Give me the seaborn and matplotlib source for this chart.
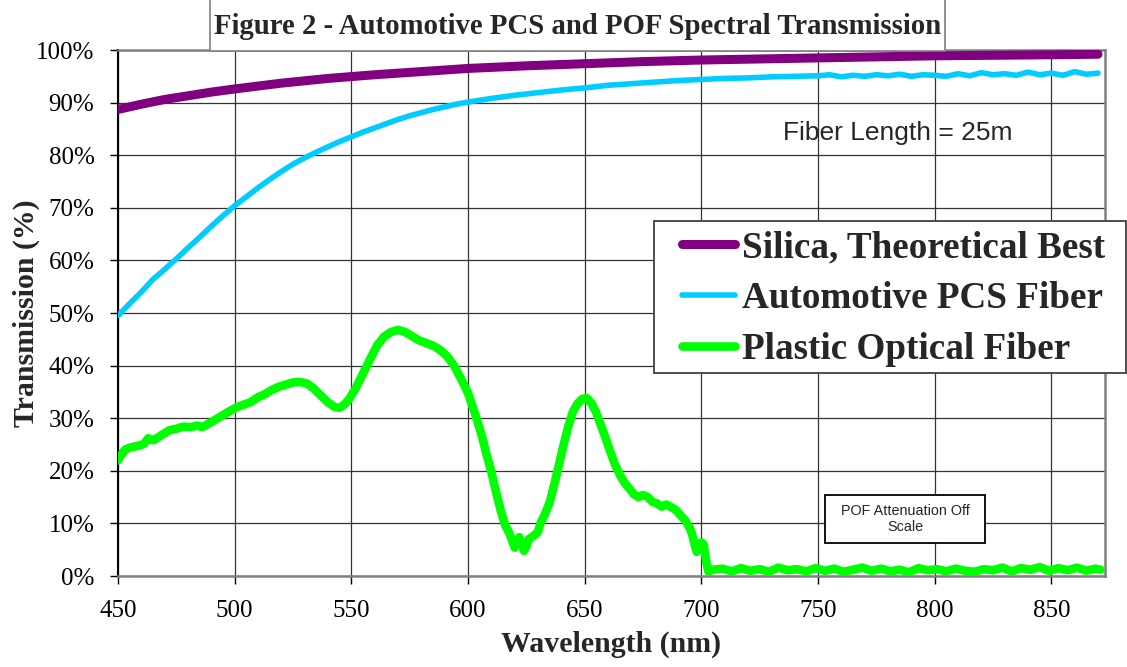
"""
Transmissão espectral - fibras PCS e POF automotivas.
"""

import matplotlib
matplotlib.use("Agg")
import matplotlib.pyplot as plt
import seaborn as sns
from matplotlib.patches import Rectangle
from matplotlib.ticker import FuncFormatter

# valores (comprimento de onda em nm, transmissão em %)
silica_wl = [450, 460, 470, 480, 490, 500, 520, 540, 560, 580, 600, 625, 650,
             675, 700, 725, 750, 775, 800, 825, 850, 870]
silica_tr = [88.7, 89.7, 90.6, 91.3, 92.0, 92.6, 93.7, 94.6, 95.3, 95.9, 96.5,
             97.0, 97.4, 97.8, 98.1, 98.3, 98.5, 98.7, 98.9, 99.0, 99.1, 99.2]

pcs_wl = [450, 455, 460, 465, 470, 475, 480, 485, 490, 495, 500, 505, 510, 515,
          520, 525, 530, 535, 540, 545, 550, 555, 560, 565, 570, 575, 580, 585,
          590, 595, 600, 610, 620, 630, 640, 650, 660, 670, 680, 690, 700, 710,
          720, 730, 740, 750, 755, 760, 765, 770, 775, 780, 785, 790, 795, 800,
          805, 810, 815, 820, 825, 830, 835, 840, 845, 850, 855, 860, 865, 870]
pcs_tr = [49.5, 51.8, 54.0, 56.4, 58.3, 60.3, 62.4, 64.4, 66.5, 68.5, 70.4,
          72.1, 73.8, 75.4, 76.9, 78.3, 79.5, 80.6, 81.6, 82.6, 83.5, 84.4,
          85.2, 86.0, 86.8, 87.5, 88.1, 88.7, 89.2, 89.7, 90.1, 90.8, 91.4,
          91.9, 92.4, 92.8, 93.3, 93.6, 93.9, 94.2, 94.4, 94.6, 94.7, 94.9,
          95.0, 95.1, 95.3, 94.9, 95.2, 95.0, 95.3, 95.1, 95.4, 95.0, 95.3,
          95.2, 95.0, 95.5, 95.1, 95.7, 95.3, 95.5, 95.2, 95.8, 95.3, 95.6,
          95.2, 95.9, 95.4, 95.6]

pof_wl = [450, 451, 453, 455, 457, 459, 461, 463, 465, 467, 469, 472, 475, 478,
          481, 484, 486, 489, 492, 495, 498, 501, 504, 507, 510, 513, 516, 519,
          522, 525, 528, 531, 534, 537, 540, 543, 545, 547, 549, 552, 555, 558,
          561, 564, 567, 570, 573, 576, 579, 582, 585, 588, 591, 594, 597, 600,
          602, 604, 606, 608, 610, 612, 614, 616, 617, 618, 619, 620, 621, 622,
          623, 624, 625, 626, 628, 630, 631, 633, 635, 637, 639, 641, 643, 645,
          647, 649, 651, 653, 655, 657, 659, 661, 663, 665, 667, 669, 671, 673,
          675, 677, 679, 681, 683, 685, 687, 689, 691, 693, 695, 696, 697, 698,
          699, 700, 701, 702, 703, 705, 709, 713, 717, 721, 725, 729, 733, 737,
          741, 745, 749, 753, 757, 761, 765, 769, 773, 777, 781, 785, 789, 793,
          797, 801, 805, 809, 813, 817, 821, 825, 829, 833, 837, 841, 845, 849,
          853, 857, 861, 865, 869, 871]
pof_tr = [22.0, 22.8, 24.0, 24.4, 24.6, 24.8, 25.1, 26.2, 25.8, 26.3, 26.9,
          27.7, 28.0, 28.4, 28.3, 28.6, 28.3, 29.0, 29.8, 30.6, 31.4, 32.1,
          32.6, 33.1, 34.0, 34.6, 35.4, 36.0, 36.4, 36.8, 36.9, 36.6, 35.6,
          34.3, 33.0, 32.1, 32.0, 32.6, 33.6, 35.8, 38.5, 41.2, 43.8, 45.5,
          46.4, 46.8, 46.4, 45.6, 44.8, 44.3, 43.8, 43.0, 41.8, 40.0, 37.5,
          34.8, 32.2, 29.5, 26.5, 23.0, 19.8, 16.0, 12.5, 9.5, 8.8, 7.8, 6.6,
          5.4, 6.6, 7.4, 6.0, 4.8, 5.6, 7.0, 7.6, 8.4, 10.0, 11.8, 14.0, 17.5,
          21.2, 25.0, 28.5, 31.3, 32.8, 33.7, 33.8, 32.8, 31.0, 28.6, 26.2,
          23.6, 21.2, 19.3, 17.8, 16.7, 15.6, 15.0, 15.4, 15.0, 14.1, 13.8,
          13.2, 13.6, 13.1, 12.6, 11.6, 10.6, 9.2, 8.0, 6.2, 4.6, 5.4, 6.4,
          6.0, 3.0, 0.9, 1.2, 1.4, 0.9, 1.5, 1.0, 1.3, 0.8, 1.6, 1.1, 1.3,
          0.9, 1.5, 1.0, 1.4, 0.8, 1.2, 1.6, 1.0, 1.4, 0.9, 1.2, 0.7, 1.5,
          1.1, 1.3, 0.9, 1.4, 1.0, 0.8, 1.3, 1.1, 1.6, 0.9, 1.5, 1.2, 1.7,
          1.0, 1.5, 1.1, 1.6, 1.0, 1.4, 1.2]

series_labels = ["Silica, Theoretical Best", "Automotive PCS Fiber",
                 "Plastic Optical Fiber"]
x_ticks = [450, 500, 550, 600, 650, 700, 750, 800, 850]
y_ticks = [0, 10, 20, 30, 40, 50, 60, 70, 80, 90, 100]

sns.set_style("white")
plt.rcParams['font.family'] = ['Liberation Serif', 'DejaVu Serif']

fig = plt.figure(figsize=(11.27, 6.67), dpi=100)
ax = fig.add_axes([0.1047, 0.1364, 0.8758, 0.7886])

sns.lineplot(x=silica_wl, y=silica_tr, ax=ax, color='#800080', lw=6.5,
             label=series_labels[0], solid_capstyle='round', zorder=4)
sns.lineplot(x=pcs_wl, y=pcs_tr, ax=ax, color='#00CCFF', lw=4.0,
             label=series_labels[1], solid_capstyle='round', zorder=4)
sns.lineplot(x=pof_wl, y=pof_tr, ax=ax, color='#00FF00', lw=6.2,
             label=series_labels[2], solid_capstyle='round', zorder=4)

ax.set_xlim(450, 873)
ax.set_ylim(0, 100)
ax.set_xticks(x_ticks)
ax.set_yticks(y_ticks)
ax.yaxis.set_major_formatter(FuncFormatter(lambda v, p: f"{v:.0f}%"))
ax.grid(True, color='#333333', lw=0.9)
ax.set_axisbelow(True)
ax.tick_params(axis='both', direction='out', length=6, width=1, color='black',
               labelsize=18, labelcolor='black', left=True, bottom=True)
ax.tick_params(axis='y', pad=11)
ax.tick_params(axis='x', pad=11)
for side in ['top', 'right', 'bottom']:
    ax.spines[side].set_color('#808080')
    ax.spines[side].set_linewidth(1.8)
ax.spines['left'].set_color('black')
ax.spines['left'].set_linewidth(1.5)

ax.set_xlabel("Wavelength (nm)", fontsize=21.5, fontweight='bold')
ax.set_ylabel("Transmission (%)", fontsize=21.5, fontweight='bold')
ax.xaxis.set_label_coords(0.5, -0.103)
ax.yaxis.set_label_coords(-0.079, 0.5)

# anotações
ax.text(0.790, 0.842, "Fiber Length = 25m", transform=ax.transAxes,
        ha='center', va='center', fontsize=19, family='Liberation Sans')
ax.add_patch(Rectangle((0.7158, 0.0627), 0.1631, 0.0913, transform=ax.transAxes,
                       facecolor='white', edgecolor='black', lw=1.3, zorder=5))
ax.text(0.798, 0.108, "POF Attenuation Off\nScale", transform=ax.transAxes,
        ha='center', va='center', fontsize=10.4, family='Liberation Sans',
        linespacing=1.15, zorder=6)

# título em caixa
fig.add_artist(Rectangle((210 / 1127, 1 - 51 / 667), 735 / 1127, 60 / 667,
                         transform=fig.transFigure, facecolor='white',
                         edgecolor='#808080', lw=1.2, zorder=5))
fig.text(578 / 1127, 1 - 26 / 667,
         "Figure 2 - Automotive PCS and POF Spectral Transmission",
         ha='center', va='center', fontsize=20.7, fontweight='bold', zorder=6)

# legenda com moldura própria
fig.add_artist(Rectangle((654 / 1127, 1 - 373 / 667), 472 / 1127, 152 / 667,
                         transform=fig.transFigure, facecolor='white',
                         edgecolor='#404040', lw=1.3, zorder=7))
leg = ax.legend(loc='upper left', bbox_to_anchor=(682 / 1127, 1 - 230 / 667),
                bbox_transform=fig.transFigure, frameon=False, borderpad=0,
                borderaxespad=0, handlelength=1.42, handletextpad=0.2,
                labelspacing=0.43,
                prop=dict(family='Liberation Serif', weight='bold', size=26.7))
leg.set_zorder(8)
leg.remove()
fig.add_artist(leg)

plt.savefig("out.png", dpi=100)
